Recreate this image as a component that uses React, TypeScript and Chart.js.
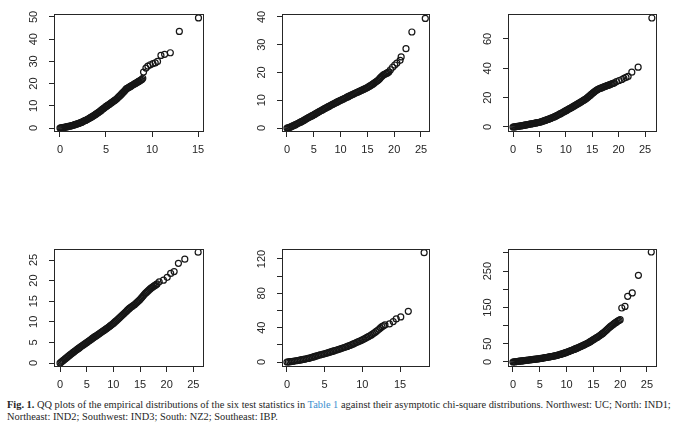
import React, { useEffect, useRef } from "react";
import { Chart, registerables } from "chart.js";

Chart.register(...registerables);

// ---- Northwest: UC (theoretical chi-square quantile vs empirical quantile)
const ucTheoretical = [
  0, 0.1, 0.2, 0.3, 0.4, 0.5, 0.6, 0.7, 0.8, 0.9, 1.0, 1.1, 1.2, 1.3, 1.4, 1.5, 1.6, 1.7, 1.8, 1.9,
  2.0, 2.1, 2.2, 2.3, 2.4, 2.5, 2.6, 2.7, 2.8, 2.9, 3.0, 3.1, 3.2, 3.3, 3.4, 3.5, 3.6, 3.7, 3.8, 3.9,
  4.0, 4.1, 4.2, 4.3, 4.4, 4.5, 4.6, 4.7, 4.8, 4.9, 5.0, 5.1, 5.2, 5.3, 5.4, 5.5, 5.6, 5.7, 5.8, 5.9,
  6.0, 6.1, 6.2, 6.3, 6.4, 6.5, 6.6, 6.7, 6.8, 6.9, 7.0, 7.1, 7.2, 7.3, 7.4, 7.5, 7.6, 7.7, 7.8, 7.9,
  8.0, 8.1, 8.2, 8.3, 8.4, 8.5, 8.6, 8.7, 8.8, 8.9, 9.0,
  9.08, 9.34, 9.55, 9.81, 10.1, 10.35, 10.6, 10.97, 11.37, 11.99, 12.97, 15.05,
];
const ucEmpirical = [
  0, 0.05, 0.1, 0.17, 0.25, 0.32, 0.4, 0.5, 0.6, 0.7, 0.8, 0.9, 1.0, 1.1, 1.2, 1.35, 1.5, 1.62, 1.75, 1.88,
  2.0, 2.18, 2.35, 2.52, 2.7, 2.9, 3.1, 3.3, 3.5, 3.7, 3.9, 4.15, 4.4, 4.65, 4.9, 5.15, 5.4, 5.68, 5.95, 6.22,
  6.5, 6.8, 7.1, 7.4, 7.7, 8.05, 8.4, 8.7, 9.0, 9.35, 9.7, 9.95, 10.2, 10.5, 10.8, 11.1, 11.4, 11.7, 12.0, 12.3,
  12.6, 12.95, 13.3, 13.7, 14.1, 14.5, 14.9, 15.35, 15.8, 16.2, 16.6, 17.1, 17.6, 17.85, 18.1, 18.35, 18.6, 18.85, 19.1, 19.35,
  19.6, 19.85, 20.1, 20.35, 20.6, 20.85, 21.1, 21.35, 21.6, 21.9, 22.4,
  25.2, 27.0, 27.9, 28.5, 29.0, 29.3, 30.0, 32.7, 33.2, 33.9, 43.5, 49.6,
];

// ---- North: IND1
const ind1Theoretical = [
  0, 0.2, 0.4, 0.6, 0.8, 1.0, 1.2, 1.4, 1.6, 1.8, 2.0, 2.2, 2.4, 2.6, 2.8, 3.0, 3.2, 3.4, 3.6, 3.8,
  4.0, 4.2, 4.4, 4.6, 4.8, 5.0, 5.2, 5.4, 5.6, 5.8, 6.0, 6.2, 6.4, 6.6, 6.8, 7.0, 7.2, 7.4, 7.6, 7.8,
  8.0, 8.2, 8.4, 8.6, 8.8, 9.0, 9.2, 9.4, 9.6, 9.8, 10.0, 10.2, 10.4, 10.6, 10.8, 11.0, 11.2, 11.4, 11.6, 11.8,
  12.0, 12.2, 12.4, 12.6, 12.8, 13.0, 13.2, 13.4, 13.6, 13.8, 14.0, 14.2, 14.4, 14.6, 14.8, 15.0, 15.2, 15.4, 15.6, 15.8,
  16.0, 16.2, 16.4, 16.6, 16.8, 17.0, 17.2, 17.4, 17.6, 17.8, 18.0, 18.2, 18.4, 18.6, 18.8, 19.0,
  19.3, 19.7, 20.1, 20.5, 21.1, 21.3, 22.2, 23.3, 25.8,
];
const ind1Empirical = [
  0, 0.05, 0.15, 0.3, 0.47, 0.65, 0.83, 1.02, 1.2, 1.4, 1.6, 1.8, 2.0, 2.2, 2.4, 2.6, 2.83, 3.06, 3.29, 3.52,
  3.75, 3.95, 4.15, 4.35, 4.55, 4.75, 4.98, 5.2, 5.43, 5.66, 5.9, 6.1, 6.3, 6.52, 6.73, 6.95, 7.16, 7.37, 7.58, 7.79,
  8.0, 8.2, 8.4, 8.6, 8.8, 9.0, 9.2, 9.4, 9.6, 9.8, 10.0, 10.18, 10.36, 10.54, 10.72, 10.9, 11.1, 11.3, 11.5, 11.7,
  11.9, 12.08, 12.26, 12.44, 12.62, 12.8, 12.97, 13.14, 13.31, 13.48, 13.65, 13.84, 14.03, 14.22, 14.41, 14.6, 14.84, 15.08, 15.32, 15.56,
  15.8, 16.08, 16.36, 16.64, 16.92, 17.2, 17.6, 18.05, 18.45, 18.8, 19.15, 19.35, 19.55, 19.75, 19.95, 20.2,
  21.0, 21.9, 22.7, 23.4, 24.4, 25.6, 28.6, 34.6, 39.5,
];

// ---- Northeast: IND2
const ind2Theoretical = [
  0, 0.2, 0.4, 0.6, 0.8, 1.0, 1.2, 1.4, 1.6, 1.8, 2.0, 2.2, 2.4, 2.6, 2.8, 3.0, 3.2, 3.4, 3.6, 3.8,
  4.0, 4.2, 4.4, 4.6, 4.8, 5.0, 5.2, 5.4, 5.6, 5.8, 6.0, 6.2, 6.4, 6.6, 6.8, 7.0, 7.2, 7.4, 7.6, 7.8,
  8.0, 8.2, 8.4, 8.6, 8.8, 9.0, 9.2, 9.4, 9.6, 9.8, 10.0, 10.2, 10.4, 10.6, 10.8, 11.0, 11.2, 11.4, 11.6, 11.8,
  12.0, 12.2, 12.4, 12.6, 12.8, 13.0, 13.2, 13.4, 13.6, 13.8, 14.0, 14.2, 14.4, 14.6, 14.8, 15.0, 15.2, 15.4, 15.6, 15.8,
  16.0, 16.2, 16.4, 16.6, 16.8, 17.0, 17.2, 17.4, 17.6, 17.8, 18.0, 18.2, 18.4, 18.6, 18.8, 19.0, 19.2,
  19.6, 20.1, 20.6, 21.0, 21.4, 21.8, 22.5, 23.7, 26.3,
];
const ind2Empirical = [
  0, 0.08, 0.18, 0.28, 0.39, 0.5, 0.62, 0.74, 0.86, 0.98, 1.1, 1.24, 1.38, 1.52, 1.66, 1.8, 1.94, 2.08, 2.22, 2.36,
  2.5, 2.64, 2.78, 2.92, 3.06, 3.2, 3.42, 3.66, 3.9, 4.15, 4.4, 4.65, 4.92, 5.18, 5.44, 5.7, 6.0, 6.3, 6.6, 6.9,
  7.2, 7.58, 7.96, 8.34, 8.72, 9.1, 9.5, 9.9, 10.3, 10.7, 11.1, 11.5, 11.9, 12.3, 12.7, 13.1, 13.52, 13.94, 14.36, 14.78,
  15.2, 15.63, 16.06, 16.49, 16.92, 17.35, 17.82, 18.29, 18.76, 19.23, 19.7, 20.3, 20.92, 21.55, 22.18, 22.8, 23.4, 23.95, 24.5, 25.0,
  25.5, 25.85, 26.17, 26.48, 26.77, 27.05, 27.32, 27.6, 27.87, 28.14, 28.4, 28.68, 28.96, 29.24, 29.52, 29.8, 30.1,
  31.0, 31.7, 32.4, 33.2, 33.8, 34.5, 37.4, 40.8, 74.3,
];

// ---- Southwest: IND3
const ind3Theoretical = [
  0, 0.2, 0.4, 0.6, 0.8, 1.0, 1.2, 1.4, 1.6, 1.8, 2.0, 2.2, 2.4, 2.6, 2.8, 3.0, 3.2, 3.4, 3.6, 3.8,
  4.0, 4.2, 4.4, 4.6, 4.8, 5.0, 5.2, 5.4, 5.6, 5.8, 6.0, 6.2, 6.4, 6.6, 6.8, 7.0, 7.2, 7.4, 7.6, 7.8,
  8.0, 8.2, 8.4, 8.6, 8.8, 9.0, 9.2, 9.4, 9.6, 9.8, 10.0, 10.2, 10.4, 10.6, 10.8, 11.0, 11.2, 11.4, 11.6, 11.8,
  12.0, 12.2, 12.4, 12.6, 12.8, 13.0, 13.2, 13.4, 13.6, 13.8, 14.0, 14.2, 14.4, 14.6, 14.8, 15.0, 15.2, 15.4, 15.6, 15.8,
  16.0, 16.2, 16.4, 16.6, 16.8, 17.0, 17.2, 17.4, 17.6, 17.8, 18.0, 18.2,
  18.6, 19.4, 20.1, 20.75, 21.4, 22.2, 23.4, 25.9,
];
const ind3Empirical = [
  0, 0.2, 0.41, 0.62, 0.84, 1.05, 1.26, 1.47, 1.68, 1.89, 2.1, 2.3, 2.5, 2.7, 2.9, 3.1, 3.29, 3.48, 3.67, 3.86,
  4.05, 4.23, 4.41, 4.59, 4.77, 4.95, 5.14, 5.33, 5.52, 5.71, 5.9, 6.08, 6.26, 6.44, 6.62, 6.8, 6.98, 7.16, 7.34, 7.52,
  7.7, 7.88, 8.06, 8.24, 8.42, 8.6, 8.8, 9.0, 9.2, 9.4, 9.6, 9.84, 10.08, 10.32, 10.56, 10.8, 11.04, 11.28, 11.52, 11.76,
  12.0, 12.25, 12.5, 12.75, 13.0, 13.25, 13.45, 13.64, 13.83, 14.02, 14.2, 14.44, 14.68, 14.92, 15.16, 15.4, 15.7, 16.0, 16.3, 16.6,
  16.9, 17.14, 17.38, 17.62, 17.86, 18.1, 18.28, 18.46, 18.64, 18.82, 19.0, 19.2,
  19.7, 20.1, 20.8, 21.75, 22.2, 24.2, 25.2, 26.9,
];

// ---- South: NZ2
const nz2Theoretical = [
  0, 0.2, 0.4, 0.6, 0.8, 1.0, 1.2, 1.4, 1.6, 1.8, 2.0, 2.2, 2.4, 2.6, 2.8, 3.0, 3.2, 3.4, 3.6, 3.8,
  4.0, 4.2, 4.4, 4.6, 4.8, 5.0, 5.2, 5.4, 5.6, 5.8, 6.0, 6.2, 6.4, 6.6, 6.8, 7.0, 7.2, 7.4, 7.6, 7.8,
  8.0, 8.2, 8.4, 8.6, 8.8, 9.0, 9.2, 9.4, 9.6, 9.8, 10.0, 10.2, 10.4, 10.6, 10.8, 11.0, 11.2, 11.4, 11.6, 11.8,
  12.0, 12.2, 12.4, 12.6, 12.8, 13.0,
  13.6, 14.1, 14.5, 15.1, 16.1, 18.2,
];
const nz2Empirical = [
  0, 0.15, 0.35, 0.6, 0.9, 1.2, 1.48, 1.77, 2.08, 2.38, 2.7, 3.05, 3.42, 3.8, 4.2, 4.6, 5.12, 5.65, 6.2, 6.75,
  7.3, 7.78, 8.25, 8.7, 9.15, 9.6, 10.15, 10.68, 11.22, 11.76, 12.3, 12.86, 13.42, 13.98, 14.54, 15.1, 15.7, 16.3, 16.9, 17.5,
  18.1, 18.82, 19.55, 20.3, 21.05, 21.8, 22.6, 23.4, 24.2, 25.0, 25.8, 26.7, 27.6, 28.6, 29.55, 30.5, 31.6, 32.8, 34.0, 35.3,
  36.6, 38.1, 39.7, 41.1, 42.2, 43.2,
  44.4, 47.1, 50.2, 52.5, 59.0, 127.3,
];

// ---- Southeast: IBP
const ibpTheoretical = [
  0, 0.2, 0.4, 0.6, 0.8, 1.0, 1.2, 1.4, 1.6, 1.8, 2.0, 2.2, 2.4, 2.6, 2.8, 3.0, 3.2, 3.4, 3.6, 3.8,
  4.0, 4.2, 4.4, 4.6, 4.8, 5.0, 5.2, 5.4, 5.6, 5.8, 6.0, 6.2, 6.4, 6.6, 6.8, 7.0, 7.2, 7.4, 7.6, 7.8,
  8.0, 8.2, 8.4, 8.6, 8.8, 9.0, 9.2, 9.4, 9.6, 9.8, 10.0, 10.2, 10.4, 10.6, 10.8, 11.0, 11.2, 11.4, 11.6, 11.8,
  12.0, 12.2, 12.4, 12.6, 12.8, 13.0, 13.2, 13.4, 13.6, 13.8, 14.0, 14.2, 14.4, 14.6, 14.8, 15.0, 15.2, 15.4, 15.6, 15.8,
  16.0, 16.2, 16.4, 16.6, 16.8, 17.0, 17.2, 17.4, 17.6, 17.8, 18.0, 18.2, 18.4, 18.6, 18.8, 19.0, 19.2, 19.4, 19.6, 19.8,
  20.0,
  20.3, 20.9, 21.4, 22.25, 23.4, 25.8,
];
const ibpEmpirical = [
  0, 0.35, 0.7, 1.05, 1.4, 1.8, 2.2, 2.55, 2.9, 3.3, 3.7, 4.05, 4.4, 4.75, 5.1, 5.5, 5.9, 6.25, 6.6, 6.95,
  7.3, 7.65, 8.0, 8.4, 8.8, 9.25, 9.7, 10.2, 10.7, 11.25, 11.8, 12.35, 12.9, 13.45, 14.0, 14.55, 15.1, 15.65, 16.2, 16.8,
  17.4, 18.2, 19.0, 19.85, 20.7, 21.65, 22.6, 23.6, 24.6, 25.6, 26.6, 27.7, 28.8, 29.95, 31.1, 32.25, 33.4, 34.65, 35.9, 37.2,
  38.5, 39.8, 41.1, 42.45, 43.8, 45.15, 46.5, 47.95, 49.4, 50.85, 52.3, 54.1, 55.9, 57.75, 59.6, 61.45, 63.3, 65.15, 67.0, 68.8,
  70.6, 72.8, 75.0, 77.2, 79.4, 81.85, 84.3, 87.05, 89.8, 92.6, 95.4, 97.8, 100.2, 102.5, 104.8, 106.9, 109.0, 110.95, 112.9, 114.7,
  116.5,
  148.6, 153.0, 180.7, 190.0, 238.5, 302.7,
];

// ---- Axis ticks (tick marks) and the subset that carries a label
const ticksX15 = [0, 5, 10, 15];
const ticksX25 = [0, 5, 10, 15, 20, 25];
const ticksY_UC = [0, 10, 20, 30, 40, 50];
const ticksY_IND1 = [0, 10, 20, 30, 40];
const ticksY_IND2 = [0, 20, 40, 60];
const ticksY_IND3 = [0, 5, 10, 15, 20, 25];
const ticksY_NZ2 = [0, 20, 40, 60, 80, 100, 120];
const labelsY_NZ2 = [0, 40, 80, 120];
const ticksY_IBP = [0, 50, 100, 150, 200, 250, 300];
const labelsY_IBP = [0, 50, 150, 250];

type Box = { left: number; top: number; right: number; bottom: number };
type PanelSpec = {
  xs: number[];
  ys: number[];
  box: Box;
  xRange: [number, number];
  yRange: [number, number];
  xTicks: number[];
  yTicks: number[];
  yLabels: number[];
};

const TOP_ROW = { top: 14, bottom: 132 };
const BOTTOM_ROW = { top: 249, bottom: 367 };
const COLS = [
  { left: 54, right: 204 },
  { left: 282, right: 430 },
  { left: 508, right: 657 },
];

const panels: PanelSpec[] = [
  {
    xs: ucTheoretical, ys: ucEmpirical,
    box: { ...COLS[0], ...TOP_ROW },
    xRange: [-0.65, 15.65], yRange: [-1.8, 51.35],
    xTicks: ticksX15, yTicks: ticksY_UC, yLabels: ticksY_UC,
  },
  {
    xs: ind1Theoretical, ys: ind1Empirical,
    box: { ...COLS[1], ...TOP_ROW },
    xRange: [-0.93, 26.68], yRange: [-1.44, 41.08],
    xTicks: ticksX25, yTicks: ticksY_IND1, yLabels: ticksY_IND1,
  },
  {
    xs: ind2Theoretical, ys: ind2Empirical,
    box: { ...COLS[2], ...TOP_ROW },
    xRange: [-0.95, 27.27], yRange: [-3.41, 77.04],
    xTicks: ticksX25, yTicks: ticksY_IND2, yLabels: ticksY_IND2,
  },
  {
    xs: ind3Theoretical, ys: ind3Empirical,
    box: { ...COLS[0], ...BOTTOM_ROW },
    xRange: [-1.13, 27.0], yRange: [-0.97, 27.67],
    xTicks: ticksX25, yTicks: ticksY_IND3, yLabels: ticksY_IND3,
  },
  {
    xs: nz2Theoretical, ys: nz2Empirical,
    box: { ...COLS[1], ...BOTTOM_ROW },
    xRange: [-0.66, 18.98], yRange: [-5.8, 131.6],
    xTicks: ticksX15, yTicks: ticksY_NZ2, yLabels: labelsY_NZ2,
  },
  {
    xs: ibpTheoretical, ys: ibpEmpirical,
    box: { ...COLS[2], ...BOTTOM_ROW },
    xRange: [-0.93, 26.87], yRange: [-13.8, 311],
    xTicks: ticksX25, yTicks: ticksY_IBP, yLabels: labelsY_IBP,
  },
];

const INK = "#262626";
const AXIS_FONT = '"Liberation Sans", Arial, Helvetica, sans-serif';

// Space around the plot box inside each canvas
const PAD_L = 48;
const PAD_T = 8;
const PAD_R = 10;
const PAD_B = 32;

function Panel({ spec }: { spec: PanelSpec }) {
  const ref = useRef<HTMLCanvasElement | null>(null);
  const w = spec.box.right - spec.box.left + PAD_L + PAD_R;
  const h = spec.box.bottom - spec.box.top + PAD_T + PAD_B;

  useEffect(() => {
    if (!ref.current) return;

    // R-style frame around the plotting region plus rotated y tick labels
    const frameAndLabels = {
      id: "frameAndLabels",
      afterDraw(chart: any) {
        const { ctx, chartArea } = chart;
        const l = Math.round(chartArea.left);
        const t = Math.round(chartArea.top);
        const r = Math.round(chartArea.right);
        const b = Math.round(chartArea.bottom);
        ctx.save();
        ctx.strokeStyle = INK;
        ctx.lineWidth = 1;
        ctx.strokeRect(l + 0.5, t + 0.5, r - l - 1, b - t - 1);

        const yScale = chart.scales.y;
        ctx.fillStyle = INK;
        ctx.font = `11px ${AXIS_FONT}`;
        ctx.textAlign = "center";
        ctx.textBaseline = "middle";
        for (const v of spec.yLabels) {
          const py = yScale.getPixelForValue(v);
          ctx.save();
          ctx.translate(l - 20, py);
          ctx.rotate(-Math.PI / 2);
          ctx.fillText(String(v), 0, 0);
          ctx.restore();
        }
        ctx.restore();
      },
    };

    const chart = new Chart(ref.current, {
      type: "scatter",
      data: {
        datasets: [
          {
            data: spec.xs.map((x, i) => ({ x, y: spec.ys[i] })),
            pointStyle: "circle",
            pointRadius: 3,
            pointHoverRadius: 3,
            pointBorderWidth: 1.2,
            borderColor: "#161616",
            backgroundColor: "rgba(0,0,0,0)",
          },
        ],
      },
      options: {
        responsive: false,
        animation: false,
        events: [],
        layout: { padding: { left: 0, top: PAD_T, right: PAD_R, bottom: 0 } },
        plugins: { legend: { display: false }, tooltip: { enabled: false } },
        scales: {
          x: {
            type: "linear",
            min: spec.xRange[0],
            max: spec.xRange[1],
            afterBuildTicks: (s: any) => {
              s.ticks = spec.xTicks.map((value) => ({ value }));
            },
            afterFit: (s: any) => {
              s.height = PAD_B;
            },
            grid: { drawOnChartArea: false, drawTicks: true, tickLength: 5, color: INK, lineWidth: 1 },
            border: { display: false },
            ticks: {
              autoSkip: false,
              maxRotation: 0,
              padding: 6,
              color: INK,
              font: { family: AXIS_FONT, size: 11 },
            },
          },
          y: {
            type: "linear",
            min: spec.yRange[0],
            max: spec.yRange[1],
            afterBuildTicks: (s: any) => {
              s.ticks = spec.yTicks.map((value) => ({ value }));
            },
            afterFit: (s: any) => {
              s.width = PAD_L;
            },
            grid: { drawOnChartArea: false, drawTicks: true, tickLength: 5, color: INK, lineWidth: 1 },
            border: { display: false },
            ticks: { display: false },
          },
        },
      },
      plugins: [frameAndLabels],
    } as any);

    return () => chart.destroy();
  }, [spec]);

  return (
    <canvas
      ref={ref}
      width={w}
      height={h}
      style={{
        position: "absolute",
        left: spec.box.left - PAD_L,
        top: spec.box.top - PAD_T,
        width: w,
        height: h,
      }}
    />
  );
}

export default function App() {
  return (
    <div
      style={{
        position: "absolute",
        left: 0,
        top: 0,
        width: 700,
        height: 430,
        background: "#ffffff",
        overflow: "hidden",
      }}
    >
      {panels.map((p, i) => (
        <Panel key={i} spec={p} />
      ))}
      <div
        style={{
          position: "absolute",
          left: 7,
          top: 399,
          fontFamily: '"Liberation Serif", "Times New Roman", serif',
          fontSize: 10.4,
          lineHeight: "11.5px",
          color: "#262626",
          whiteSpace: "nowrap",
        }}
      >
        <b>Fig. 1.</b> QQ plots of the empirical distributions of the six test statistics in{" "}
        <span style={{ color: "#3d8fcf" }}>Table 1</span> against their asymptotic chi-square
        distributions. Northwest: UC; North: IND1;
        <br />
        Northeast: IND2; Southwest: IND3; South: NZ2; Southeast: IBP.
      </div>
    </div>
  );
}
